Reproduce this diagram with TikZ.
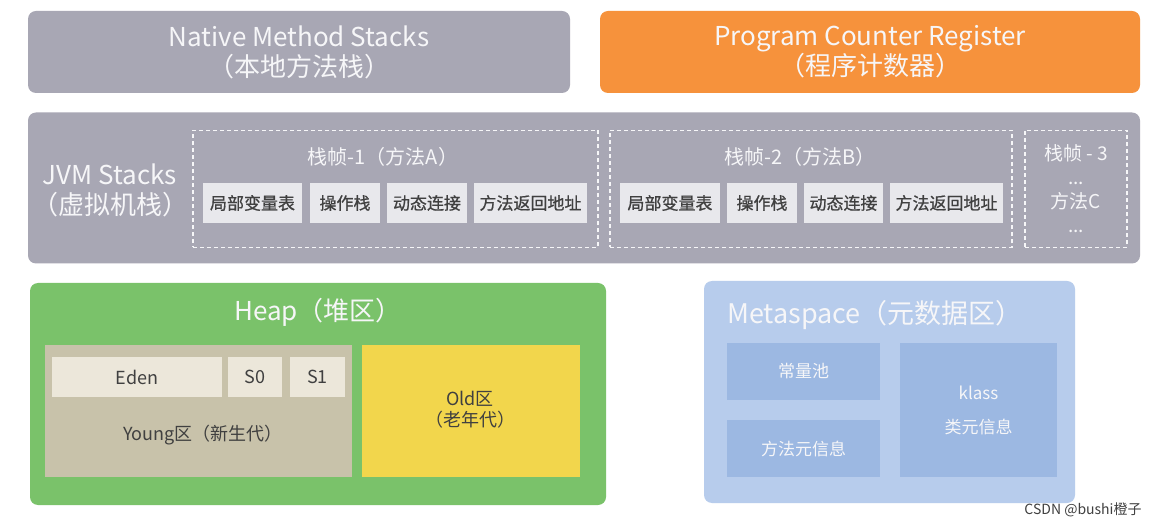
\documentclass[tikz,border=0pt]{standalone}
\usepackage{fontspec}
\setmainfont{Noto Sans CJK SC}
\newfontfamily\cellfont[FakeBold=0.8]{Noto Sans CJK SC}
\definecolor{stackgray}{RGB}{168,167,180}
\definecolor{pcorange}{RGB}{246,146,60}
\definecolor{heapgreen}{RGB}{122,194,106}
\definecolor{younggray}{RGB}{200,194,170}
\definecolor{edencell}{RGB}{236,231,218}
\definecolor{oldyellow}{RGB}{242,214,76}
\definecolor{metablue}{RGB}{183,204,236}
\definecolor{metainner}{RGB}{156,184,226}
\definecolor{cellgray}{RGB}{232,232,236}
\definecolor{textdark}{RGB}{64,64,64}
\definecolor{titlewhite}{RGB}{246,246,248}

\begin{document}
\begin{tikzpicture}[x=1pt, y=-1pt,
  region/.style={rounded corners=8pt, inner sep=0pt},
  title/.style={text=titlewhite, align=center, font=\fontsize{26}{30}\selectfont},
  cell/.style={fill=cellgray, inner sep=0pt, minimum height=40pt, text=textdark, font=\cellfont\fontsize{17}{20}\selectfont},
  frame/.style={draw=titlewhite, dashed, dash pattern=on 4pt off 3pt, line width=1.2pt, inner sep=0pt},
  heapcell/.style={fill=edencell, inner sep=0pt, minimum height=40pt, text=textdark, font=\fontsize{18}{20}\selectfont},
  metacell/.style={fill=metainner, inner sep=0pt, text=titlewhite, align=center, font=\fontsize{17}{34}\selectfont}]

\useasboundingbox[fill=white] (0,0) rectangle (1164,526);

% Top row: native stacks and program counter.

\node[region, fill=stackgray, minimum width=542pt, minimum height=82pt] (native) at (299,52) {};
\node[title] (nativetext) at (native.center) {Native Method Stacks\\（本地方法栈）};
\node[region, fill=pcorange, minimum width=540pt, minimum height=82pt] (pcr) at (870,52) {};
\node[title] (pcrtext) at (pcr.center) {Program Counter Register\\（程序计数器）};

% JVM stacks with the frames.

\node[region, fill=stackgray, minimum width=1112pt, minimum height=151pt] (jvm) at (584,188) {};
\node[title] (jvmtext) at (110,190) {JVM Stacks\\（虚拟机栈）};

\node[frame, minimum width=405pt, minimum height=117pt] (frameA) at (395.5,189) {};
\node[title, font=\fontsize{20}{24}\selectfont] (frameAtext) at (383,157) {栈帧-1（方法A）};
\node[cell, minimum width=99pt] (localA) at (252.5,203) {局部变量表};
\node[cell, minimum width=70pt] (opA) at (345,203) {操作栈};
\node[cell, minimum width=80pt] (linkA) at (427,203) {动态连接};
\node[cell, minimum width=113pt] (retA) at (530.5,203) {方法返回地址};

\node[frame, minimum width=402pt, minimum height=117pt] (frameB) at (811,189) {};
\node[title, font=\fontsize{20}{24}\selectfont] (frameBtext) at (800,157) {栈帧-2（方法B）};
\node[cell, minimum width=100pt] (localB) at (670,203) {局部变量表};
\node[cell, minimum width=70pt] (opB) at (762,203) {操作栈};
\node[cell, minimum width=79pt] (linkB) at (843.5,203) {动态连接};
\node[cell, minimum width=113pt] (retB) at (946.5,203) {方法返回地址};

\node[frame, minimum width=102pt, minimum height=117pt] (frameC) at (1076,189) {};
\node[title, font=\fontsize{19}{24}\selectfont] (frameCtext) at (frameC.center) {栈帧 - 3\\...\\方法C\\...};

% Heap.

\node[region, fill=heapgreen, minimum width=576pt, minimum height=222pt] (heap) at (318,394) {};
\node[title] (heaptext) at (318,312) {Heap（堆区）};
\node[fill=younggray, inner sep=0pt, minimum width=307pt, minimum height=132pt] (young) at (198.5,411) {};
\node[heapcell, minimum width=170pt] (eden) at (137,377) {Eden};
\node[heapcell, minimum width=54pt] (s0) at (255,377) {S0};
\node[heapcell, minimum width=55pt] (s1) at (317.5,377) {S1};
\node[text=textdark, font=\fontsize{18}{20}\selectfont] (youngtext) at (203,435) {Young区（新生代）};
\node[fill=oldyellow, inner sep=0pt, minimum width=218pt, minimum height=132pt] (old) at (471,411) {};
\node[text=textdark, align=center, font=\fontsize{18}{21}\selectfont] (oldtext) at (470,410) {Old区\\（老年代）};

% Metaspace.

\node[region, fill=metablue, minimum width=371pt, minimum height=222pt] (meta) at (889.5,392) {};
\node[title, font=\fontsize{27}{30}\selectfont] (metatext) at (875,315) {Metaspace（元数据区）};
\node[metacell, minimum width=153pt, minimum height=57pt] (pool) at (803.5,371.5) {常量池};
\node[metacell, minimum width=153pt, minimum height=57pt] (minfo) at (803.5,448.5) {方法元信息};
\node[metacell, minimum width=157pt, minimum height=134pt] (klass) at (978.5,410) {klass\\类元信息};

\node[text=textdark, font=\fontsize{14}{16}\selectfont] (mark) at (1083,510) {CSDN @bushi橙子};

\end{tikzpicture}
\end{document}
